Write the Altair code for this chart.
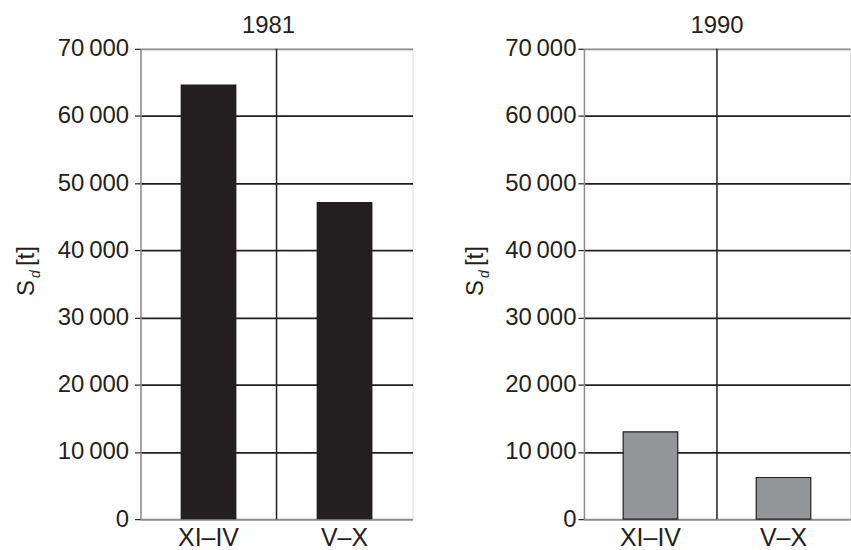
import altair as alt
import pandas as pd

# Seasonal sediment load S_d [t] for two hydrological half-years
periods = ["XI–IV", "V–X"]
years = ["1981", "1990"]
sd_1981 = [64700, 47200]
sd_1990 = [13000, 6200]
y_ticks = [0, 10000, 20000, 30000, 40000, 50000, 60000, 70000]

FONT = "Liberation Sans"
INK = "#231f20"
FRAME = "#8c8c8c"
PLOT_H = 472


def x_enc(band_position=None):
    kwargs = dict(
        sort=periods,
        scale=alt.Scale(domain=periods, paddingInner=0, paddingOuter=0),
        axis=alt.Axis(
            title=None, labelAngle=0, labelFont=FONT, labelFontSize=25,
            labelColor=INK, labelPadding=6, ticks=False, tickSize=0,
            grid=False, domainColor=FRAME, domainWidth=1.5,
        ),
    )
    if band_position is not None:
        kwargs["bandPosition"] = band_position
    return alt.X("period:N", **kwargs)


def y_enc(label_pad):
    return alt.Y(
        "sd:Q",
        scale=alt.Scale(domain=[0, 70000], nice=False),
        axis=alt.Axis(
            title=None, values=y_ticks,
            labelExpr="datum.value == 0 ? '0' : format(datum.value / 1000, 'd') + '\u2009000'",
            labelFont=FONT, labelFontSize=24, labelColor=INK, labelPadding=label_pad,
            tickSize=6, tickColor=INK, tickWidth=1.2,
            domainColor=FRAME, domainWidth=1.5,
            grid=True, gridWidth=1.8,
            gridColor={"condition": {"test": "datum.value == 0 || datum.value == 70000",
                                     "value": FRAME},
                       "value": INK},
        ),
    )


def title_part(text, size, x, y, style="normal"):
    return alt.Chart(alt.Data(values=[{}])).mark_text(
        text=text, angle=270, align="left", baseline="alphabetic",
        font=FONT, fontSize=size, fontStyle=style, color=INK,
    ).encode(x=alt.value(x), y=alt.value(y))


def panel(year, values, fill, stroke, width, label_pad, title_x, title_dx):
    df = pd.DataFrame({"period": periods, "sd": values})
    bars = alt.Chart(df).mark_bar(
        fill=fill, stroke=stroke, strokeWidth=1.2 if stroke else 0,
        width=alt.RelativeBandSize(0.41),
    ).encode(x=x_enc(), y=y_enc(label_pad))

    # separator between the two half-years, at the start of the second band
    sep = alt.Chart(pd.DataFrame({"period": [periods[1]]})).mark_rule(
        color=INK, strokeWidth=1.5
    ).encode(x=x_enc(band_position=0))

    # y-axis title S_d [t], built from parts so the subscript can be italic
    s = title_part("S", 24, title_x, 248)
    d = title_part("d", 14, title_x + 6, 230, "italic")
    t = title_part("[t]", 24, title_x, 218)

    return alt.layer(sep, bars, s, d, t).properties(
        width=width, height=PLOT_H,
        title=alt.TitleParams(year, font=FONT, fontSize=24, fontWeight="normal",
                              color=INK, offset=-1, dx=title_dx),
    )


left = panel(years[0], sd_1981, INK, None, 273, 6, -107, -8)
right = panel(years[1], sd_1990, "#939598", INK, 267, 2, -101, 0)

chart = alt.hconcat(left, right, spacing=50).properties(
    padding={"left": 14, "top": 12, "right": 0, "bottom": 0}
).configure_view(
    stroke=FRAME, strokeWidth=1.5
).configure(background="white")

chart.save("out.html", embed_options={"renderer": "svg", "actions": False})
